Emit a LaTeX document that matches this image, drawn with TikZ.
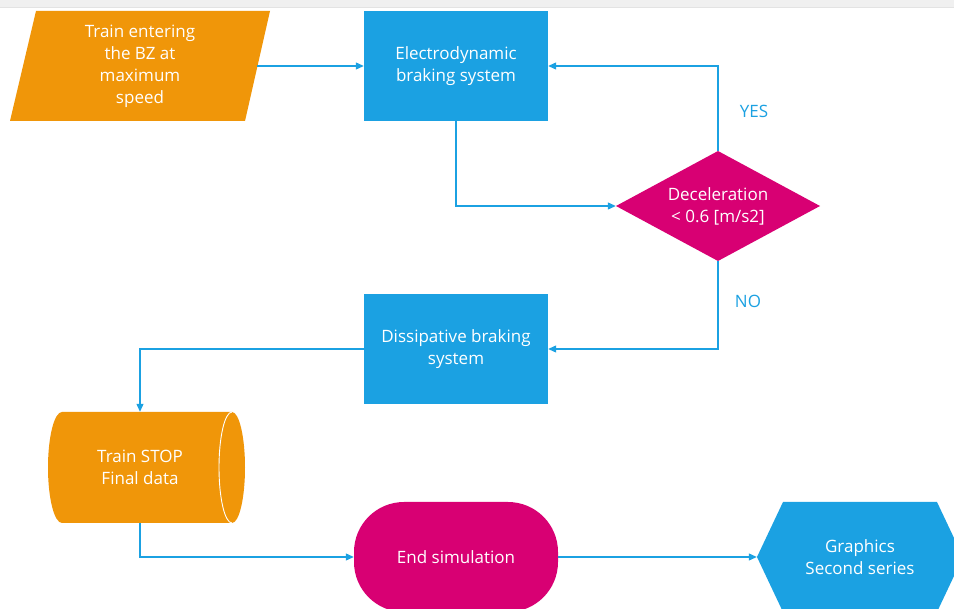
\documentclass[tikz,border=0pt]{standalone}
\usepackage{fontspec}
\setmainfont{Open Sans}
\usetikzlibrary{arrows.meta}
\definecolor{mblue}{HTML}{1BA1E2}
\definecolor{morange}{HTML}{F09609}
\definecolor{mmagenta}{HTML}{D80073}
\tikzset{
  txt/.style={font=\fontsize{17}{22}\selectfont, text=white, align=center},
  ghost/.style={txt, inner sep=0pt, minimum width=#1},
  box/.style={txt, rectangle, fill=mblue, minimum width=184pt, minimum height=110pt, inner sep=0pt},
  conn/.style={draw=mblue, line width=1.1pt, -{Triangle[length=8pt,width=7pt]}},
  lbl/.style={font=\fontsize{17}{22}\selectfont, text=mblue}
}
\begin{document}
\begin{tikzpicture}[x=1pt,y=-1pt]
  \useasboundingbox (0,0) rectangle (954,609);
  \begin{scope}
  \clip (0,0) rectangle (954,609);
  \fill[white] (0,0) rectangle (954,609);
  % window strip along the top
  \fill[black!6] (0,0) rectangle (954,7);
  \fill[black!11] (0,7) rectangle (954,8.5);

  % input parallelogram
  \fill[morange] (36,11) -- (270,11) -- (245,121) -- (10,121) -- cycle;
  \node[ghost=234pt, minimum height=110pt] (para) at (140,66) {Train entering\\the BZ at\\maximum\\speed};

  % process boxes
  \node[box] (ed) at (456,66) {Electrodynamic\\braking system};
  \node[box] (dis) at (456,349) {Dissipative braking\\system};

  % decision
  \fill[mmagenta] (616,206) -- (718,151) -- (820,206) -- (718,261) -- cycle;
  \node[ghost=204pt, minimum height=110pt] (dia) at (718,206) {Deceleration\\< 0.6 [m/s2]};

  % stored data cylinder (y axis points down, so angles run clockwise)
  \fill[morange] (62,412) -- (232,412) arc[start angle=-90, end angle=90, x radius=13, y radius=55.5]
    -- (62,523) arc[start angle=90, end angle=270, x radius=14, y radius=55.5] -- cycle;
  \draw[white, line width=0.9pt] (232,412) arc[start angle=-90, end angle=-270, x radius=13, y radius=55.5];
  \node[ghost=170pt, minimum height=111pt] (cyl) at (140,467.5) {Train STOP\\Final data};

  % terminator
  \node[txt, rectangle, rounded corners=50pt, fill=mmagenta, minimum width=204pt, minimum height=110pt, inner sep=0pt] (endsim) at (456,557) {End simulation};

  % display hexagon
  \fill[mblue] (757,557) -- (783,502) -- (937,502) -- (963,557) -- (937,612) -- (783,612) -- cycle;
  \node[ghost=206pt, minimum height=110pt] (hex) at (860,557) {Graphics\\Second series};

  % connectors
  \draw[conn] (para.east) -- (ed.west);
  \draw[conn] (ed.south) |- (dia.west);
  \draw[conn] (dia.north) |- (ed.east);
  \draw[conn] (dia.south) |- (dis.east);
  \draw[conn] (dis.west) -| (cyl.north);
  \draw[conn] (cyl.south) |- (endsim.west);
  \draw[conn] (endsim.east) -- (hex.west);

  \node[lbl] (yes) at (754,111) {YES};
  \node[lbl] (no) at (748,301) {NO};
  \end{scope}
\end{tikzpicture}
\end{document}
